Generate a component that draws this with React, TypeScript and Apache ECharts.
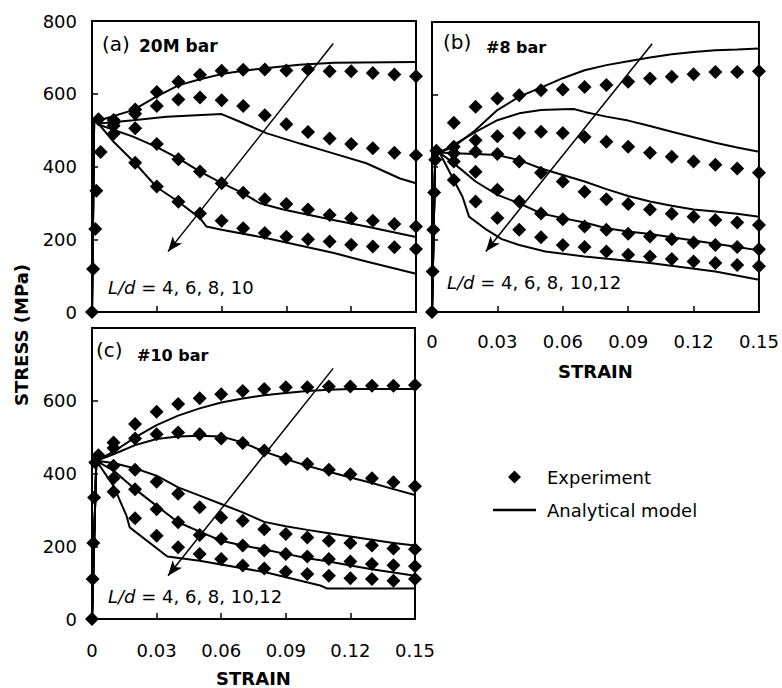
import React, { useEffect, useRef } from 'react';
import * as echarts from 'echarts';

const FONT = 'DejaVu Sans';

// strain values at which the experimental points were measured
const STRAIN = [0.01, 0.02, 0.03, 0.04, 0.05, 0.06, 0.07, 0.08, 0.09, 0.1, 0.11, 0.12, 0.13, 0.14, 0.15];
const X_TICKS = [0, 0.03, 0.06, 0.09, 0.12, 0.15];
const Y_TICKS = [0, 200, 400, 600, 800];

// (a) 20M bar, L/d = 4, 6, 8, 10 — experiment stresses (MPa)
const A_EXP_4 = [528, 557, 605, 633, 652, 663, 666, 667, 664, 667, 662, 662, 657, 653, 648];
const A_EXP_6 = [520, 545, 566, 584, 590, 582, 566, 541, 516, 495, 477, 462, 450, 438, 431];
const A_EXP_8 = [512, 505, 462, 420, 386, 354, 328, 310, 297, 282, 267, 258, 251, 242, 235];
const A_EXP_10 = [490, 410, 345, 303, 271, 251, 230, 217, 207, 200, 194, 185, 180, 178, 173];
const A_ELASTIC = [[0, 0], [0.0005, 118], [0.0015, 228], [0.002, 333], [0.004, 440], [0.003, 530]];
const A_MODEL_4 = [[0, 0], [0.001, 530], [0.0036, 527], [0.019, 555], [0.0294, 591], [0.04, 623], [0.05, 640], [0.06, 654], [0.07, 663], [0.081, 671], [0.096, 680], [0.112, 685], [0.15, 687]];
const A_MODEL_6 = [[0, 0], [0.001, 530], [0.0036, 518], [0.019, 527], [0.0345, 537], [0.06, 544], [0.0685, 523], [0.081, 491], [0.0963, 463], [0.1117, 436], [0.127, 409], [0.1426, 367], [0.15, 354]];
const A_MODEL_8 = [[0, 0], [0.001, 530], [0.0036, 514], [0.019, 482], [0.0298, 454], [0.0406, 420], [0.05, 386], [0.059, 358], [0.07, 326], [0.0777, 299], [0.0885, 282], [0.1117, 253], [0.127, 235], [0.15, 206]];
const A_MODEL_10 = [[0, 0], [0.001, 530], [0.002, 525], [0.01, 468], [0.02, 409], [0.03, 343], [0.04, 303], [0.05, 258], [0.053, 235], [0.06, 226], [0.081, 203], [0.112, 162], [0.127, 139], [0.15, 105]];
const A_ARROW = [[0.1117, 738], [0.0352, 166]];

// (b) #8 bar, L/d = 4, 6, 8, 10, 12
const B_EXP_4 = [522, 566, 589, 598, 612, 614, 621, 626, 635, 644, 649, 656, 662, 662, 664];
const B_EXP_6 = [456, 474, 485, 494, 497, 494, 483, 470, 456, 439, 428, 415, 406, 396, 384];
const B_EXP_8 = [438, 442, 436, 415, 384, 360, 332, 311, 298, 283, 271, 263, 254, 247, 240];
const B_EXP_10 = [415, 387, 337, 305, 272, 256, 236, 227, 216, 208, 201, 192, 185, 179, 173];
const B_EXP_12 = [364, 305, 259, 227, 206, 185, 179, 167, 158, 153, 146, 139, 135, 130, 126];
const B_ELASTIC = [[0, 0], [0.0003, 112], [0.0006, 227], [0.001, 330], [0.0015, 420], [0.002, 445]];
const B_MODEL_4 = [[0, 0], [0.0015, 438], [0.0034, 440], [0.01, 456], [0.02, 502], [0.03, 557], [0.04, 594], [0.05, 619], [0.06, 645], [0.07, 667], [0.08, 681], [0.09, 692], [0.1, 702], [0.11, 711], [0.12, 717], [0.13, 722], [0.14, 724], [0.15, 727]];
const B_MODEL_6 = [[0, 0], [0.0015, 438], [0.0034, 440], [0.01, 461], [0.02, 497], [0.03, 529], [0.04, 548], [0.05, 557], [0.06, 559], [0.065, 560], [0.07, 552], [0.08, 539], [0.09, 528], [0.1, 513], [0.11, 497], [0.12, 482], [0.13, 467], [0.14, 454], [0.15, 442]];
const B_MODEL_8 = [[0, 0], [0.0015, 438], [0.0034, 440], [0.01, 438], [0.02, 436], [0.03, 433], [0.04, 419], [0.05, 396], [0.06, 378], [0.07, 360], [0.08, 339], [0.09, 320], [0.1, 305], [0.11, 293], [0.12, 283], [0.13, 277], [0.14, 271], [0.15, 263]];
const B_MODEL_10 = [[0, 0], [0.0015, 438], [0.0034, 440], [0.01, 410], [0.02, 360], [0.03, 323], [0.04, 300], [0.05, 272], [0.06, 259], [0.07, 247], [0.08, 231], [0.09, 222], [0.1, 215], [0.11, 206], [0.12, 197], [0.13, 188], [0.14, 179], [0.15, 170]];
const B_MODEL_12 = [[0, 0], [0.0015, 438], [0.0034, 440], [0.014, 318], [0.017, 263], [0.025, 227], [0.032, 201], [0.04, 185], [0.052, 167], [0.07, 153], [0.1, 135], [0.13, 112], [0.15, 89]];
const B_ARROW = [[0.101, 740], [0.0247, 167]];

// (c) #10 bar, L/d = 4, 6, 8, 10, 12
const C_EXP_4 = [485, 536, 570, 591, 607, 618, 627, 632, 637, 637, 639, 639, 641, 641, 643];
const C_EXP_6 = [470, 496, 508, 513, 508, 496, 484, 463, 440, 426, 410, 398, 387, 376, 365];
const C_EXP_8 = [421, 410, 377, 344, 307, 279, 270, 247, 234, 224, 215, 209, 202, 194, 192];
const C_EXP_10 = [387, 357, 302, 266, 231, 220, 202, 188, 179, 172, 165, 158, 151, 148, 145];
const C_EXP_12 = [350, 277, 229, 197, 179, 165, 147, 139, 130, 124, 119, 112, 110, 105, 110];
const C_ELASTIC = [[0, 0], [0.0003, 110], [0.0006, 209], [0.001, 334], [0.0015, 430], [0.003, 450]];
const C_MODEL_4 = [[0, 0], [0.002, 435], [0.01, 460], [0.02, 499], [0.03, 533], [0.04, 559], [0.05, 579], [0.06, 595], [0.07, 606], [0.08, 615], [0.09, 621], [0.1, 627], [0.11, 630], [0.12, 632], [0.15, 632]];
const C_MODEL_6 = [[0, 0], [0.002, 435], [0.01, 453], [0.02, 478], [0.03, 495], [0.04, 502], [0.05, 504], [0.06, 502], [0.07, 485], [0.08, 460], [0.09, 440], [0.1, 421], [0.11, 405], [0.12, 389], [0.13, 374], [0.14, 357], [0.15, 341]];
const C_MODEL_8 = [[0, 0], [0.002, 435], [0.01, 429], [0.02, 414], [0.03, 394], [0.04, 362], [0.05, 339], [0.06, 316], [0.07, 293], [0.08, 267], [0.09, 255], [0.1, 245], [0.11, 236], [0.12, 227], [0.13, 218], [0.14, 209], [0.15, 202]];
const C_MODEL_10 = [[0, 0], [0.002, 435], [0.01, 408], [0.02, 357], [0.03, 311], [0.04, 266], [0.05, 240], [0.06, 215], [0.07, 202], [0.08, 191], [0.09, 179], [0.1, 167], [0.11, 158], [0.12, 147], [0.13, 137], [0.14, 128], [0.15, 119]];
const C_MODEL_12 = [[0, 0], [0.002, 435], [0.01, 366], [0.016, 284], [0.0175, 252], [0.035, 172], [0.05, 160], [0.081, 128], [0.106, 92], [0.109, 84], [0.15, 84]];
const C_ARROW = [[0.112, 689], [0.0353, 119]];

const PANEL_TITLES = ['(a)', '(b)', '(c)'];
const BAR_NAMES = ['20M bar', '#8 bar', '#10 bar'];
const LD_LABELS = ['4, 6, 8, 10', '4, 6, 8, 10,12', '4, 6, 8, 10,12'];

const PANELS = [
  { exp: [A_EXP_4, A_EXP_6, A_EXP_8, A_EXP_10], elastic: A_ELASTIC, model: [A_MODEL_4, A_MODEL_6, A_MODEL_8, A_MODEL_10], arrow: A_ARROW },
  { exp: [B_EXP_4, B_EXP_6, B_EXP_8, B_EXP_10, B_EXP_12], elastic: B_ELASTIC, model: [B_MODEL_4, B_MODEL_6, B_MODEL_8, B_MODEL_10, B_MODEL_12], arrow: B_ARROW },
  { exp: [C_EXP_4, C_EXP_6, C_EXP_8, C_EXP_10, C_EXP_12], elastic: C_ELASTIC, model: [C_MODEL_4, C_MODEL_6, C_MODEL_8, C_MODEL_10, C_MODEL_12], arrow: C_ARROW },
];

const GRIDS = [
  { left: 92, top: 21, width: 324, height: 291 },
  { left: 432, top: 22, width: 328, height: 290 },
  { left: 92, top: 328, width: 323, height: 292 },
];

const TITLE_POS = [
  { t: [102, 44], b: [139, 46], l: [108, 287], bs: 17 },
  { t: [443, 42], b: [486, 47], l: [447, 282], bs: 16 },
  { t: [96, 350], b: [137, 355], l: [108, 596], bs: 16 },
];

function buildOption() {
  const axisLine = { show: true, onZero: false, lineStyle: { color: '#000', width: 2 } };
  const axisTick = { show: true, inside: true, length: 6, lineStyle: { color: '#000', width: 1.5 } };
  const xMax = X_TICKS[X_TICKS.length - 1];
  const yMax = Y_TICKS[Y_TICKS.length - 1];
  const xAxis = GRIDS.map((_, i) => ({
    type: 'value', gridIndex: i, min: X_TICKS[0], max: xMax, interval: X_TICKS[1] - X_TICKS[0],
    axisLine, axisTick, splitLine: { show: false },
    axisLabel: {
      show: i > 0, color: '#000', fontFamily: FONT, fontSize: 18, margin: i === 1 ? 20 : 22,
      formatter: (v: number) => (v === 0 ? '0' : String(+v.toFixed(2))),
    },
    name: i > 0 ? 'STRAIN' : '', nameLocation: 'middle', nameGap: 50,
    nameTextStyle: { color: '#000', fontFamily: FONT, fontSize: 18, fontWeight: 'bold' },
  }));
  const yAxis = GRIDS.map((_, i) => ({
    type: 'value', gridIndex: i, min: Y_TICKS[0], max: yMax, interval: Y_TICKS[1] - Y_TICKS[0],
    axisLine, axisTick, splitLine: { show: false },
    axisLabel: { show: i !== 1, showMaxLabel: i === 0, color: '#000', fontFamily: FONT, fontSize: 18, margin: 15 },
  }));

  const diamondStyle = { color: '#000', opacity: 1 };
  const series: any[] = [];
  PANELS.forEach((p, i) => {
    series.push({
      type: 'scatter', name: 'Experiment', xAxisIndex: i, yAxisIndex: i, data: p.elastic,
      symbol: 'diamond', symbolSize: 14, itemStyle: diamondStyle, color: '#000', clip: false, silent: true,
    });
    p.exp.forEach((vals) => {
      series.push({
        type: 'scatter', name: 'Experiment', xAxisIndex: i, yAxisIndex: i,
        data: STRAIN.map((s, k) => [s, vals[k]]),
        symbol: 'diamond', symbolSize: 14, itemStyle: diamondStyle, color: '#000', clip: false, silent: true,
      });
    });
    p.model.forEach((pts, k) => {
      const s: any = {
        type: 'line', name: 'Analytical model', xAxisIndex: i, yAxisIndex: i, data: pts,
        symbol: 'none', showSymbol: false, color: '#000', lineStyle: { color: '#000', width: 2 }, silent: true,
      };
      if (k === 0) {
        s.markLine = {
          silent: true, symbol: ['none', 'arrow'], symbolSize: [9, 15],
          lineStyle: { color: '#000', width: 1.5, type: 'solid' },
          label: { show: false },
          data: [[{ coord: p.arrow[0] }, { coord: p.arrow[1] }]],
        };
      }
      series.push(s);
    });
  });

  const graphic: any[] = [];
  TITLE_POS.forEach((tp, i) => {
    graphic.push({ type: 'text', x: tp.t[0], y: tp.t[1], style: { text: PANEL_TITLES[i], fontFamily: FONT, fontSize: 20, fill: '#000', align: 'left', verticalAlign: 'middle' } });
    graphic.push({ type: 'text', x: tp.b[0], y: tp.b[1], style: { text: BAR_NAMES[i], fontFamily: FONT, fontSize: tp.bs, fontWeight: 'bold', fill: '#000', align: 'left', verticalAlign: 'middle' } });
    graphic.push({
      type: 'text', x: tp.l[0], y: tp.l[1],
      style: {
        text: '{i|L/d} = ' + LD_LABELS[i], fontFamily: FONT, fontSize: 18, fill: '#000', align: 'left', verticalAlign: 'middle',
        rich: { i: { fontStyle: 'italic', fontFamily: FONT, fontSize: 18, fill: '#000' } },
      },
    });
  });
  graphic.push({
    type: 'text', x: 21, y: 335, rotation: Math.PI / 2,
    style: { text: 'STRESS (MPa)', fontFamily: FONT, fontSize: 18, fontWeight: 'bold', fill: '#000', align: 'center', verticalAlign: 'middle' },
  });

  return {
    animation: false,
    backgroundColor: '#fff',
    grid: GRIDS.map((g) => ({ ...g, show: true, borderColor: '#000', borderWidth: 2, backgroundColor: 'transparent' })),
    xAxis, yAxis, series, graphic,
    legend: {
      orient: 'vertical', left: 493, top: 468, padding: 0, itemWidth: 43, itemHeight: 13, itemGap: 15,
      selectedMode: false, symbolKeepAspect: true,
      textStyle: { color: '#000', fontFamily: FONT, fontSize: 18, padding: [0, 0, 0, 6] },
      data: [
        { name: 'Experiment', icon: 'path://M6,0 L12,6 L6,12 L0,6 Z' },
        { name: 'Analytical model', icon: 'path://M0,0 L43,0 L43,2.5 L0,2.5 Z' },
      ],
    },
  };
}

export default function App() {
  const ref = useRef<HTMLDivElement>(null);
  useEffect(() => {
    if (!ref.current) return;
    const chart = echarts.init(ref.current, null, { renderer: 'svg' });
    chart.setOption(buildOption() as any);
    return () => chart.dispose();
  }, []);
  return <div ref={ref} style={{ position: 'fixed', left: 0, top: 0, width: 782, height: 688, background: '#fff' }} />;
}
